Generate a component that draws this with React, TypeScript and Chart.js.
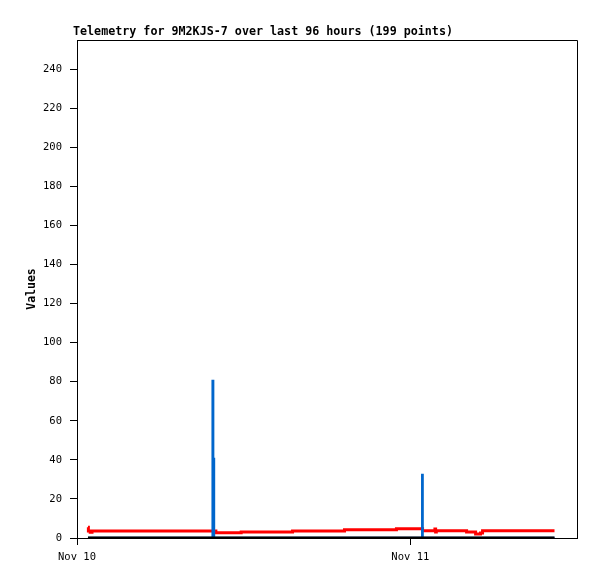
import React, { useEffect, useRef } from "react";
import { Chart, registerables } from "chart.js";

Chart.register(...registerables);

const chartTitle = "Telemetry for 9M2KJS-7 over last 96 hours (199 points)";
const yAxisTitle = "Values";

// hours since Nov 10 00:00
const xTickValues = [0, 24];
const xTickLabels = ["Nov 10", "Nov 11"];
const yTickValues = [0, 20, 40, 60, 80, 100, 120, 140, 160, 180, 200, 220, 240];

const redTimes = [0.79, 0.82, 0.95, 1.08, 10.0, 11.82, 15.52, 19.26, 23.0, 24.88, 25.77, 25.82, 25.87, 28.05, 28.7, 29.05, 29.2, 34.38];
const redValues = [5.5, 3.6, 2.9, 3.6, 2.7, 3.1, 3.6, 4.2, 4.7, 3.7, 4.6, 3.1, 3.7, 3.1, 2.0, 2.6, 3.7, 3.7];

const blueTimes = [0.79, 9.77, 9.8, 9.86, 24.86, 24.88, 34.38];
const blueValues = [0, 80.4, 40.4, 0, 32.3, 0, 0];

const blackTimes = [0.79, 34.38];
const blackValues = [0, 0];

const toPoints = (xs: number[], ys: number[]) => xs.map((x, i) => ({ x, y: ys[i] }));

const frameAndTitle = {
  id: "frameAndTitle",
  afterDraw(chart: any) {
    const { ctx, chartArea } = chart;
    ctx.save();
    ctx.strokeStyle = "#000";
    ctx.lineWidth = 1;
    ctx.beginPath();
    ctx.moveTo(chartArea.left + 0.5, chartArea.top + 0.5);
    ctx.lineTo(chartArea.right + 0.5, chartArea.top + 0.5);
    ctx.lineTo(chartArea.right + 0.5, chartArea.bottom + 0.5);
    ctx.stroke();
    ctx.fillStyle = "#000";
    ctx.font = 'bold 11.7px "DejaVu Sans Mono"';
    ctx.textAlign = "left";
    ctx.textBaseline = "alphabetic";
    ctx.fillText(chartTitle, 73, 35);
    ctx.restore();
  },
};

export default function App() {
  const ref = useRef<HTMLCanvasElement>(null);
  useEffect(() => {
    if (!ref.current) return;
    const chart = new Chart(ref.current, {
      type: "line",
      data: {
        datasets: [
          {
            data: toPoints(blackTimes, blackValues),
            borderColor: "#000000",
            borderWidth: 3,
            pointRadius: 0,
            stepped: true,
            borderCapStyle: "butt",
            borderJoinStyle: "miter",
          },
          {
            data: toPoints(blueTimes, blueValues),
            borderColor: "#0066cc",
            borderWidth: 2.5,
            pointRadius: 0,
            stepped: true,
            borderCapStyle: "butt",
            borderJoinStyle: "miter",
          },
          {
            data: toPoints(redTimes, redValues),
            borderColor: "#ff0000",
            borderWidth: 3,
            pointRadius: 0,
            stepped: true,
            borderCapStyle: "butt",
            borderJoinStyle: "miter",
          },
        ],
      },
      options: {
        animation: false,
        responsive: false,
        devicePixelRatio: 1,
        layout: { padding: { left: 0, top: 40, right: 20, bottom: 0 } },
        plugins: { legend: { display: false }, tooltip: { enabled: false }, title: { display: false } },
        scales: {
          x: {
            type: "linear",
            min: 0,
            max: 36,
            afterBuildTicks: (axis: any) => {
              axis.ticks = xTickValues.map((v) => ({ value: v }));
            },
            afterFit: (axis: any) => {
              axis.height = 41;
            },
            grid: { drawOnChartArea: false, drawTicks: true, tickLength: 7, color: "#000" },
            border: { display: true, color: "#000", width: 1 },
            ticks: {
              autoSkip: false,
              maxRotation: 0,
              padding: 6,
              color: "#000",
              font: { family: '"DejaVu Sans Mono"', size: 10.5 },
              callback: (v: any) => {
                const i = xTickValues.indexOf(Number(v));
                return i >= 0 ? xTickLabels[i] : "";
              },
            },
          },
          y: {
            min: 0,
            max: 255,
            afterBuildTicks: (axis: any) => {
              axis.ticks = yTickValues.map((v) => ({ value: v }));
            },
            afterFit: (axis: any) => {
              axis.width = 77;
            },
            grid: { drawOnChartArea: false, drawTicks: true, tickLength: 7, color: "#000" },
            border: { display: true, color: "#000", width: 1 },
            title: {
              display: true,
              text: yAxisTitle,
              color: "#000",
              font: { family: '"DejaVu Sans Mono"', size: 11.5, weight: "bold" },
              padding: { top: 25, bottom: 0 },
            },
            ticks: {
              padding: 8,
              color: "#000",
              font: { family: '"DejaVu Sans Mono"', size: 10.5 },
              callback: (v: any) => String(v),
            },
          },
        },
      },
      plugins: [frameAndTitle],
    } as any);
    return () => chart.destroy();
  }, []);
  return (
    <div style={{ position: "absolute", left: 0, top: 0, width: 597, height: 579, background: "#fff" }}>
      <canvas ref={ref} width={597} height={579} />
    </div>
  );
}
